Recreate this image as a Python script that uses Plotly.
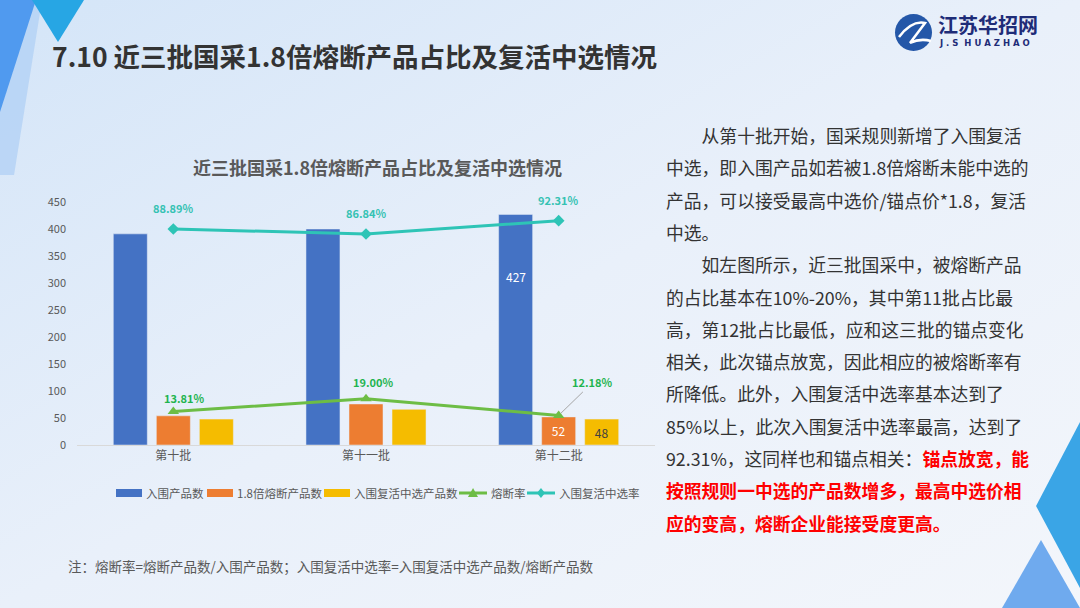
import base64
import plotly.graph_objects as go

# ---- data ----
batches = ["第十批", "第十一批", "第十二批"]
entered = [391, 400, 427]          # 入围产品数
melted = [54, 76, 52]              # 1.8倍熔断产品数
revived = [48, 66, 48]             # 入围复活中选产品数
melt_rate = [0.1381, 0.1900, 0.1218]      # 熔断率
revive_rate = [0.8889, 0.8684, 0.9231]    # 入围复活中选率
y_ticks = [0, 50, 100, 150, 200, 250, 300, 350, 400, 450]
series_names = ["入围产品数", "1.8倍熔断产品数", "入围复活中选产品数", "熔断率", "入围复活中选率"]

W, H = 1080, 608
FONT = "Noto Sans CJK SC"
BLUE, ORANGE, YELLOW = "#4472C4", "#ED7D31", "#F5BC00"
GREEN, TEAL = "#6DBD45", "#2EC4B6"


def px(x):
    return x / W


def py(y):
    return 1 - y / H


fig = go.Figure()

fig.add_trace(go.Bar(name=series_names[0], x=batches, y=entered, marker_color=BLUE))
fig.add_trace(go.Bar(
    name=series_names[1], x=batches, y=melted, marker_color=ORANGE,
    text=["", "", str(melted[2])], textposition="inside", insidetextanchor="middle",
    textfont=dict(color="white", size=12),
))
fig.add_trace(go.Bar(
    name=series_names[2], x=batches, y=revived, marker_color=YELLOW,
    text=["", "", str(revived[2])], textposition="inside", insidetextanchor="middle",
    textfont=dict(color="#404040", size=12),
))
fig.add_trace(go.Scatter(
    name=series_names[3], x=batches, y=melt_rate, yaxis="y2", mode="lines+markers",
    line=dict(color=GREEN, width=3), marker=dict(symbol="triangle-up", size=10, color=GREEN),
))
fig.add_trace(go.Scatter(
    name=series_names[4], x=batches, y=revive_rate, yaxis="y2", mode="lines+markers",
    line=dict(color=TEAL, width=3), marker=dict(symbol="diamond", size=9, color=TEAL),
))

annotations = []

# rate labels
teal_txt = "#35C2B3"
green_txt = "#1FB44F"
for b, r in zip(batches, revive_rate):
    annotations.append(dict(x=b, y=r, xref="x", yref="y2", text=f"{r*100:.2f}%",
                            showarrow=False, yshift=21, xanchor="center", yanchor="middle",
                            font=dict(color=teal_txt, size=11, weight="bold")))
shifts = [(11, 13), (7, 17)]
for (b, r), (xs, ys) in zip(zip(batches[:2], melt_rate[:2]), shifts):
    annotations.append(dict(x=b, y=r, xref="x", yref="y2", text=f"{r*100:.2f}%",
                            showarrow=False, xshift=xs, yshift=ys, xanchor="center",
                            yanchor="middle",
                            font=dict(color=green_txt, size=11, weight="bold")))
annotations.append(dict(x=batches[2], y=melt_rate[2], xref="x", yref="y2",
                        text=f"{melt_rate[2]*100:.2f}%", showarrow=True, arrowhead=0,
                        arrowwidth=1, arrowcolor="#A6A6A6", ax=34, ay=-33,
                        standoff=3, font=dict(color=green_txt, size=11, weight="bold")))
# 427 inside blue bar
annotations.append(dict(x=batches[2], y=entered[2] * 0.73, xref="x", yref="y",
                        xshift=-43, text=str(entered[2]), showarrow=False,
                        xanchor="center", yanchor="middle",
                        font=dict(color="white", size=12)))


def label(x, y, text, size, color, anchor="left", family=FONT, weight="normal"):
    annotations.append(dict(x=px(x), y=py(y), xref="paper", yref="paper", xanchor=anchor,
                            yanchor="middle", showarrow=False, text=text,
                            font=dict(family=family, size=size, color=color, weight=weight)))


# titles
label(50, 55, "7.10 近三批国采1.8倍熔断产品占比及复活中选情况", 26.5, "#333333", weight="bold")
label(377, 167, "近三批国采1.8倍熔断产品占比及复活中选情况", 18, "#595959", "center",
      weight="bold")

# note
label(66, 566, "注：熔断率=熔断产品数/入围产品数；入围复活中选率=入围复活中选产品数/熔断产品数",
      13.5, "#595959")

# right paragraph
red = lambda s: f"<span style='color:#FF0000'><b>{s}</b></span>"
lines = [
    "　　从第十批开始，国采规则新增了入围复活",
    "中选，即入围产品如若被1.8倍熔断未能中选的",
    "产品，可以接受最高中选价/锚点价*1.8，复活",
    "中选。",
    "　　如左图所示，近三批国采中，被熔断产品",
    "的占比基本在10%-20%，其中第11批占比最",
    "高，第12批占比最低，应和这三批的锚点变化",
    "相关，此次锚点放宽，因此相应的被熔断率有",
    "所降低。此外，入围复活中选率基本达到了",
    "85%以上，此次入围复活中选率最高，达到了",
    "92.31%，这同样也和锚点相关：" + red("锚点放宽，能"),
    red("按照规则一中选的产品数增多，最高中选价相"),
    red("应的变高，熔断企业能接受度更高。"),
]
for i, t in enumerate(lines):
    label(664, 135 + i * 32.3, t, 17.8, "#333333")

# logo text
label(936, 24, "江苏华招网", 20, "#1E2C78", weight="bold")
label(937, 43, "J . S  H U A Z H A O", 8.5, "#1E2C78", family="DejaVu Sans", weight="bold")


# decorative shapes
def poly(pts, color, opacity=1.0, layer="below"):
    d = "M " + " L ".join(f"{px(x):.4f},{py(y):.4f}" for x, y in pts) + " Z"
    return dict(type="path", path=d, xref="paper", yref="paper", fillcolor=color,
                line=dict(width=0), opacity=opacity, layer=layer)


shapes = [
    poly([(0, 0), (42, 0), (14, 175), (0, 175)], "#B7D4F5", 0.9),
    poly([(0, 0), (36, 0), (0, 112)], "#4A97EE", 0.95),
    poly([(32, 0), (84, 0), (58, 42)], "#27A6E4"),
    poly([(1080, 422), (1036, 506), (1080, 588)], "#3AA5E6"),
    poly([(1041, 540), (1002, 608), (1080, 608)], "#6FAAEE"),
    dict(type="circle", xref="paper", yref="paper", x0=px(895), x1=px(932),
         y0=py(51), y1=py(14), fillcolor="#2457A8", line=dict(width=0)),
    dict(type="path", xref="paper", yref="paper",
         path=f"M {px(899)},{py(37)} Q {px(912)},{py(20)} {px(925)},{py(23)} "
              f"L {px(910)},{py(43)} Q {px(920)},{py(38)} {px(931)},{py(41)}",
         line=dict(color="white", width=2.5)),
]

# custom legend (compact, like the original)
leg_y = 493
bar_items = [(116, BLUE), (207, ORANGE), (324, YELLOW)]
for (x0, c), name in zip(bar_items, series_names[:3]):
    shapes.append(dict(type="rect", xref="paper", yref="paper", x0=px(x0), x1=px(x0 + 26),
                       y0=py(leg_y + 4), y1=py(leg_y - 4), fillcolor=c, line=dict(width=0)))
    label(x0 + 28, leg_y, name, 11.5, "#595959")
line_items = [(459, GREEN, "tri"), (527, TEAL, "dia")]
for (x0, c, sym), name in zip(line_items, series_names[3:]):
    shapes.append(dict(type="line", xref="paper", yref="paper", x0=px(x0), x1=px(x0 + 28),
                       y0=py(leg_y), y1=py(leg_y), line=dict(color=c, width=3)))
    cx = x0 + 14
    if sym == "tri":
        shapes.append(poly([(cx, leg_y - 5), (cx - 5, leg_y + 4), (cx + 5, leg_y + 4)], c,
                           layer="above"))
    else:
        shapes.append(poly([(cx, leg_y - 5), (cx + 4, leg_y), (cx, leg_y + 5), (cx - 4, leg_y)],
                           c, layer="above"))
    label(x0 + 30, leg_y, name, 11.5, "#595959")

# gradient background as inline svg
svg = (
    f"<svg xmlns='http://www.w3.org/2000/svg' width='{W}' height='{H}'>"
    "<defs><linearGradient id='g' x1='0' y1='0' x2='1' y2='1'>"
    "<stop offset='0' stop-color='#D4E5F8'/><stop offset='0.5' stop-color='#E9F0FA'/>"
    "<stop offset='1' stop-color='#F3F6FB'/></linearGradient></defs>"
    f"<rect width='{W}' height='{H}' fill='url(#g)'/></svg>"
)
bg = "data:image/svg+xml;base64," + base64.b64encode(svg.encode()).decode()

fig.update_layout(
    width=W, height=H,
    margin=dict(l=0, r=0, t=0, b=0, autoexpand=False),
    paper_bgcolor="#E9F0FA",
    plot_bgcolor="rgba(0,0,0,0)",
    font=dict(family=FONT, color="#595959", size=12),
    barmode="group",
    bargap=0.33,
    bargroupgap=0.21,
    showlegend=False,
    images=[dict(source=bg, xref="paper", yref="paper", x=0, y=1, sizex=1, sizey=1,
                 sizing="stretch", layer="below")],
    xaxis=dict(domain=[px(77), px(655)], showline=True, linecolor="#D9D9D9", linewidth=1,
               ticks="", automargin=False, tickfont=dict(size=12, color="#595959")),
    yaxis=dict(domain=[py(445), py(202)], range=[0, 450], tickvals=y_ticks,
               showgrid=False, zeroline=False, showline=False, ticklabelstandoff=10,
               automargin=False, tickfont=dict(size=11, color="#595959")),
    yaxis2=dict(overlaying="y", range=[0, 1], visible=False, showgrid=False,
                automargin=False),
    annotations=annotations,
    shapes=shapes,
)

fig.write_html("out.html", config={"displayModeBar": False},
               post_script="document.body.style.margin='0';")
